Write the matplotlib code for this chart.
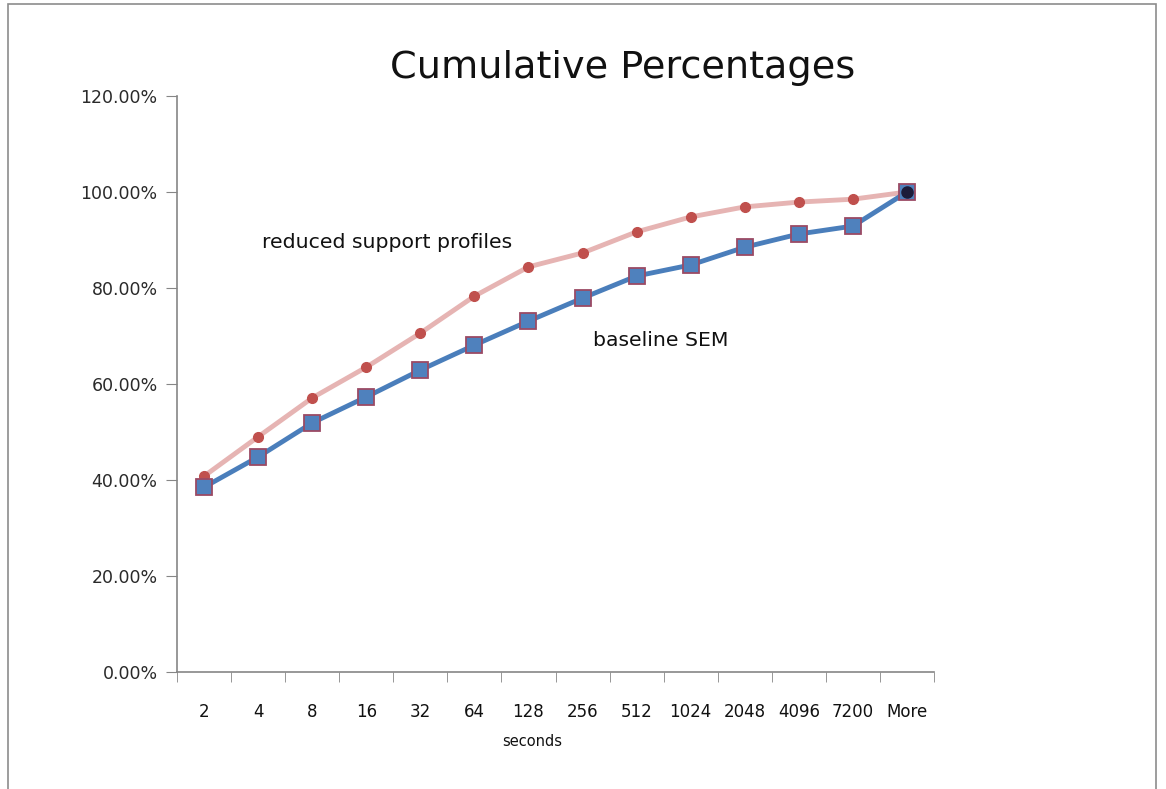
import matplotlib
matplotlib.use("Agg")
import matplotlib.pyplot as plt
from matplotlib.patches import Rectangle
from matplotlib.ticker import FuncFormatter, FixedLocator

categories = ["2", "4", "8", "16", "32", "64", "128", "256", "512",
              "1024", "2048", "4096", "7200", "More"]
reduced_support = [40.8, 49.0, 57.1, 63.5, 70.6, 78.3, 84.4, 87.3, 91.7,
                   94.8, 96.9, 97.9, 98.5, 100.0]
baseline_sem = [38.5, 44.8, 51.9, 57.3, 62.9, 68.1, 73.1, 77.9, 82.5,
                84.8, 88.5, 91.25, 92.9, 100.0]

W, H = 1166, 789
fig = plt.figure(figsize=(W / 100, H / 100), dpi=100)
fig.patch.set_facecolor("white")

# outer chart border
fig.patches.append(Rectangle((8 / W, -0.01), (1156 - 8) / W, 1 - 4 / H + 0.01,
                             transform=fig.transFigure, fill=False,
                             edgecolor="#8c8c8c", linewidth=1.2))

ax = fig.add_axes([177 / W, (H - 672) / H, (934 - 177) / W, (672 - 96) / H])
x = list(range(len(categories)))

ax.plot(x, reduced_support, color="#e6b4b3", linewidth=3.5, zorder=2,
        marker="o", markersize=7, markerfacecolor="#c0504d",
        markeredgecolor="#c0504d", solid_capstyle="round")
ax.plot(x, baseline_sem, color="#4a7ebb", linewidth=3.5, zorder=3,
        marker="s", markersize=11, markerfacecolor="#4f81bd",
        markeredgecolor="#9b4a64", markeredgewidth=1.3)
ax.plot(x[-1:], reduced_support[-1:], linestyle="none", marker="o",
        markersize=8, color="#1c1c3a", zorder=4)

ax.set_xlim(-0.5, len(categories) - 0.5)
ax.set_ylim(0, 120)
ax.set_yticks(range(0, 121, 20))
ax.yaxis.set_major_formatter(FuncFormatter(lambda v, p: f"{v:.2f}%"))
ax.xaxis.set_major_locator(FixedLocator(x))
ax.set_xticklabels(categories)
ax.xaxis.set_minor_locator(FixedLocator([i - 0.5 for i in range(len(categories) + 1)]))
ax.tick_params(axis="x", which="major", length=0, pad=22, labelsize=12,
               labelcolor="#111111")
ax.tick_params(axis="x", which="minor", length=7, color="#868686", direction="out")
ax.tick_params(axis="y", length=8, color="#868686", direction="out", pad=6,
               labelsize=12.5, labelcolor="#2a2a2a")

for s in ["top", "right"]:
    ax.spines[s].set_visible(False)
for s in ["left", "bottom"]:
    ax.spines[s].set_color("#868686")
    ax.spines[s].set_linewidth(1.2)

ax.set_xlabel("seconds", fontsize=10.5, color="#111111")
ax.xaxis.set_label_coords((532 - 177) / 757, -(741 - 672) / 576)
ax.xaxis.label.set_va("center")

fig.text(623 / W, 1 - 68 / H, "Cumulative Percentages", ha="center",
         va="center", fontsize=27.5, color="#111111")

ax.text(1.08, 89.4, "reduced support profiles", fontsize=14.7, color="#111111",
        va="center", ha="left")
ax.text(7.2, 69.0, "baseline SEM", fontsize=14.7, color="#111111",
        va="center", ha="left")

fig.savefig("out.png", dpi=100, facecolor="white")
